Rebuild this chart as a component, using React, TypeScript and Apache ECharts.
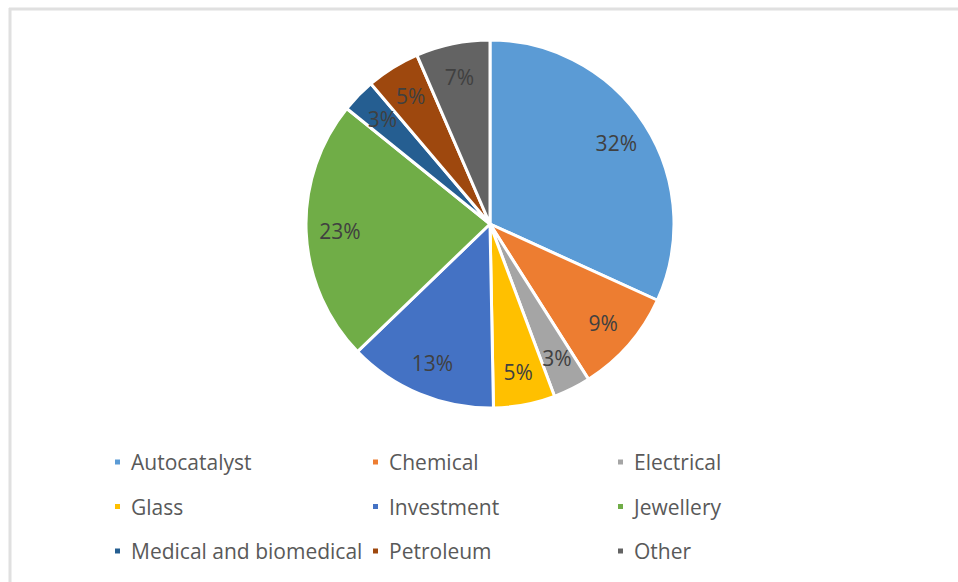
import React, { useEffect, useRef } from "react";
import * as echarts from "echarts";

const categories = [
  "Autocatalyst",
  "Chemical",
  "Electrical",
  "Glass",
  "Investment",
  "Jewellery",
  "Medical and biomedical",
  "Petroleum",
  "Other",
];
const values = [31.8, 9.2, 3.3, 5.4, 13.1, 23.0, 3.0, 4.7, 6.5];
const colors = [
  "#5B9BD5",
  "#ED7D31",
  "#A5A5A5",
  "#FFC000",
  "#4472C4",
  "#70AD47",
  "#255E91",
  "#9E480E",
  "#636363",
];
const legendColumns = [
  ["Autocatalyst", "Glass", "Medical and biomedical"],
  ["Chemical", "Investment", "Petroleum"],
  ["Electrical", "Jewellery", "Other"],
];
const legendLefts = [108, 366, 611];

const FONT = "'Open Sans', 'Liberation Sans', sans-serif";

export default function App() {
  const ref = useRef<HTMLDivElement>(null);
  useEffect(() => {
    if (!ref.current) return;
    const chart = echarts.init(ref.current, null, { renderer: "svg" });
    const data = categories.map((name, i) => ({
      name,
      value: values[i],
      itemStyle: { color: colors[i] },
    }));
    const center = [490, 224];
    const R = 184;
    chart.setOption({
      animation: false,
      backgroundColor: "#ffffff",
      legend: legendColumns.map((col, ci) => ({
        data: col,
        orient: "vertical",
        left: legendLefts[ci],
        top: 445,
        itemWidth: 7,
        itemHeight: 7,
        itemGap: 20.5,
        icon: "rect",
        selectedMode: false,
        textStyle: {
          color: "#595959",
          fontSize: 21,
          fontFamily: FONT,
          lineHeight: 24,
          padding: [0, 0, 0, 5],
        },
      })),
      graphic: [
        {
          type: "line",
          shape: { x1: 9, y1: 9, x2: 958, y2: 9 },
          style: { stroke: "#e0e0e0", lineWidth: 3 },
        },
        {
          type: "line",
          shape: { x1: 10, y1: 8, x2: 10, y2: 582 },
          style: { stroke: "#e0e0e0", lineWidth: 3 },
        },
      ],
      series: [
        {
          type: "pie",
          name: "main",
          center,
          radius: [0, R],
          startAngle: 90,
          clockwise: true,
          data,
          label: { show: false },
          labelLine: { show: false },
          itemStyle: { borderColor: "#ffffff", borderWidth: 3 },
          emphasis: { disabled: true },
          silent: true,
        },
        {
          type: "pie",
          name: "labels",
          center,
          radius: [R * 0.6, R],
          startAngle: 90,
          clockwise: true,
          data: categories.map((name, i) => ({
            name,
            value: values[i],
            itemStyle: { color: "rgba(0,0,0,0)", borderWidth: 0 },
          })),
          label: {
            show: true,
            position: "inside",
            formatter: (p: any) => Math.round(p.value) + "%",
            color: "#404040",
            fontSize: 21,
            fontFamily: FONT,
          },
          labelLine: { show: false },
          emphasis: { disabled: true },
          silent: true,
        },
      ],
    });
    return () => chart.dispose();
  }, []);
  return (
    <div
      ref={ref}
      style={{ position: "absolute", left: 0, top: 0, width: 958, height: 582 }}
    />
  );
}
